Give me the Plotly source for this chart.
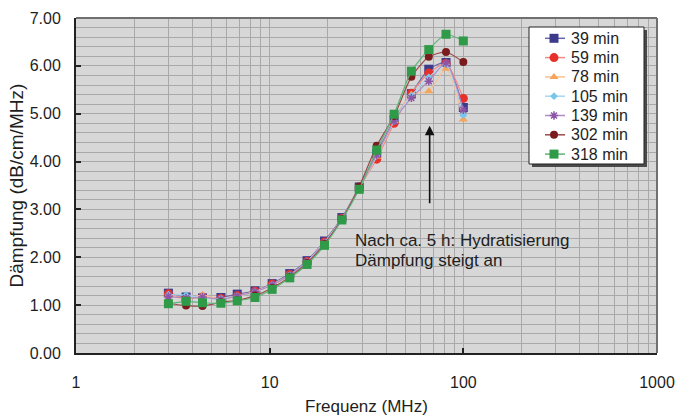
import numpy as np
import plotly.graph_objects as go

freq = [3.0, 3.7, 4.5, 5.6, 6.8, 8.4, 10.3, 12.7, 15.6, 19.2, 23.6, 29.0, 35.7, 43.9, 53.9, 66.3, 81.4, 100]

d39 = [1.25, 1.17, 1.15, 1.16, 1.23, 1.30, 1.45, 1.66, 1.93, 2.34, 2.83, 3.47, 4.17, 4.88, 5.42, 5.93, 6.07, 5.13]
d59 = [1.24, 1.14, 1.17, 1.14, 1.20, 1.29, 1.44, 1.64, 1.91, 2.32, 2.81, 3.45, 4.05, 4.80, 5.43, 5.85, 6.05, 5.32]
d78 = [1.20, 1.13, 1.21, 1.12, 1.18, 1.27, 1.42, 1.62, 1.90, 2.30, 2.80, 3.45, 4.10, 4.85, 5.40, 5.47, 5.94, 4.88]
d105 = [1.22, 1.21, 1.15, 1.14, 1.19, 1.28, 1.43, 1.63, 1.91, 2.31, 2.81, 3.45, 4.12, 4.85, 5.38, 5.76, 6.03, 4.97]
d139 = [1.18, 1.15, 1.17, 1.12, 1.19, 1.28, 1.42, 1.63, 1.90, 2.30, 2.80, 3.44, 4.14, 4.85, 5.33, 5.68, 6.06, 5.08]
d302 = [1.04, 0.99, 0.98, 1.06, 1.10, 1.20, 1.36, 1.59, 1.88, 2.28, 2.80, 3.48, 4.33, 4.95, 5.77, 6.19, 6.29, 6.08]
d318 = [1.03, 1.08, 1.05, 1.04, 1.09, 1.16, 1.33, 1.57, 1.85, 2.25, 2.78, 3.42, 4.24, 4.99, 5.89, 6.34, 6.66, 6.52]

series_names = ["39 min", "59 min", "78 min", "105 min", "139 min", "302 min", "318 min"]
series_data = [d39, d59, d78, d105, d139, d302, d318]
colors = ["#3d3a8c", "#e8302a", "#f5a55a", "#78c6ea", "#8d55a6", "#7a1c1e", "#2f9a48"]
line_colors = ["#6a67b0", "#ee8a86", "#f7c196", "#a6d9f2", "#b08bc4", "#9a4a4a", "#5db477"]
symbols = ["square", "circle", "triangle-up", "diamond", "asterisk-open", "circle", "square"]
sizes = [9, 9, 8, 6, 7, 8, 9]

x_ticks = [1, 10, 100, 1000]
y_ticks = [0, 1, 2, 3, 4, 5, 6, 7]

arrow_freq = 67.0
arrow_from = 3.1
arrow_to = 4.75
note_lines = ["Nach ca. 5 h: Hydratisierung", "Dämpfung steigt an"]

FONT = "Arial, Liberation Sans, sans-serif"
TXT = "#1e1e1e"

W, H = 675, 415
PL, PR, PT, PB = 76, 657, 18, 353  # plot area in page pixels

fig = go.Figure()
for name, data, c, lc, s, sz in zip(series_names, series_data, colors, line_colors, symbols, sizes):
    marker = dict(symbol=s, size=sz, color=c, line=dict(width=0))
    if s == "asterisk-open":
        marker["line"] = dict(width=1.5, color=c)
    fig.add_trace(go.Scatter(
        x=freq, y=data, name=name, mode="lines+markers", showlegend=False,
        line=dict(color=lc, width=1.2, shape="spline", smoothing=0.6),
        marker=marker,
    ))

# ---- manual legend on an overlay axis measured in page pixels ----
L_LEFT, L_RIGHT, L_TOP, L_BOTTOM = 529, 644, 27, 164
row0, row_step = 38.3, 19.3
fig.add_trace(go.Scatter(
    x=[L_LEFT + 3, L_RIGHT + 3, L_RIGHT + 3, L_LEFT + 3, L_LEFT + 3],
    y=[L_TOP + 3, L_TOP + 3, L_BOTTOM + 3, L_BOTTOM + 3, L_TOP + 3],
    mode="lines", fill="toself", fillcolor="#4a4a4a", line=dict(width=0),
    xaxis="x2", yaxis="y2", showlegend=False, hoverinfo="skip"))
fig.add_trace(go.Scatter(
    x=[L_LEFT, L_RIGHT, L_RIGHT, L_LEFT, L_LEFT],
    y=[L_TOP, L_TOP, L_BOTTOM, L_BOTTOM, L_TOP],
    mode="lines", fill="toself", fillcolor="white", line=dict(width=1, color="#222"),
    xaxis="x2", yaxis="y2", showlegend=False, hoverinfo="skip"))
for i, (name, c, lc, s, sz) in enumerate(zip(series_names, colors, line_colors, symbols, sizes)):
    yc = row0 + i * row_step
    fig.add_trace(go.Scatter(x=[545, 565], y=[yc, yc], mode="lines", xaxis="x2", yaxis="y2",
                             line=dict(color=lc, width=1.5), showlegend=False, hoverinfo="skip"))
    mk = dict(symbol=s, size=sz, color=c, line=dict(width=0))
    if s == "asterisk-open":
        mk["line"] = dict(width=1.5, color=c)
    fig.add_trace(go.Scatter(x=[554], y=[yc], mode="markers", xaxis="x2", yaxis="y2",
                             marker=mk, showlegend=False, hoverinfo="skip"))
    fig.add_annotation(x=569, y=yc, xref="x2", yref="y2", text=name, showarrow=False,
                       xanchor="left", yanchor="middle", font=dict(size=16, color=TXT, family=FONT))

grid_c = "#a9a9a9"
fig.update_layout(
    width=W, height=H,
    margin=dict(l=PL, r=W - PR, t=PT, b=H - PB, pad=0),
    paper_bgcolor="white",
    plot_bgcolor="#d7d7d7",
    font=dict(family=FONT, size=16, color=TXT),
    showlegend=False,
    xaxis=dict(
        type="log", range=[0, 3], automargin=False,
        tickvals=x_ticks, ticktext=[str(v) for v in x_ticks],
        showgrid=True, gridcolor=grid_c, gridwidth=1,
        minor=dict(showgrid=True, gridcolor=grid_c, gridwidth=1, dtick="D1", ticks=""),
        ticks="inside", ticklen=5, tickcolor="#222", tickwidth=1.5,
        showline=True, linecolor="#222", linewidth=2,
        ticklabelstandoff=14,
        zeroline=False,
        tickfont=dict(size=16),
    ),
    yaxis=dict(
        range=[0, 7], tickvals=y_ticks, tickformat=".2f", automargin=False,
        showgrid=True, gridcolor=grid_c, gridwidth=1,
        minor=dict(showgrid=True, gridcolor=grid_c, gridwidth=1, dtick=0.2, ticks=""),
        ticks="inside", ticklen=5, tickcolor="#222", tickwidth=1.5,
        showline=True, linecolor="#222", linewidth=2,
        ticklabelstandoff=10,
        zeroline=False,
        tickfont=dict(size=16),
    ),
    xaxis2=dict(overlaying="x", anchor="y2", range=[PL, PR], visible=False, fixedrange=True),
    yaxis2=dict(overlaying="y", anchor="x2", range=[PB, PT], visible=False, fixedrange=True),
)

# axis titles
fig.add_annotation(x=0.5, y=0, xref="paper", yref="paper", yshift=-53, text="Frequenz (MHz)",
                   showarrow=False, xanchor="center", yanchor="middle", font=dict(size=17, color=TXT))
fig.add_annotation(x=0, y=0.5, xref="paper", yref="paper", xshift=-60, text="Dämpfung (dB/cm/MHz)",
                   textangle=-90, showarrow=False, xanchor="center", yanchor="middle",
                   font=dict(size=19, color=TXT))

# frame (top/right) of the plot area
fig.add_shape(type="line", xref="paper", yref="paper", x0=0, y0=1, x1=1, y1=1,
              line=dict(color="#707070", width=2), layer="above")
fig.add_shape(type="line", xref="paper", yref="paper", x0=1, y0=0, x1=1, y1=1,
              line=dict(color="#707070", width=2), layer="above")

fig.add_annotation(
    x=np.log10(arrow_freq), y=arrow_to, ax=np.log10(arrow_freq), ay=arrow_from,
    xref="x", yref="y", axref="x", ayref="y",
    showarrow=True, arrowhead=2, arrowsize=1.2, arrowwidth=1.6, arrowcolor="#111", text="",
)
for k, line in enumerate(note_lines):
    fig.add_annotation(
        x=353, y=240.7 + k * 19.3, xref="x2", yref="y2",
        text=line, showarrow=False, xanchor="left", yanchor="middle", align="left",
        font=dict(size=17, color=TXT),
    )

fig.write_html(
    "out.html",
    config={"displayModeBar": False},
    post_script="document.body.style.margin='0px';"
                "document.documentElement.style.overflow='hidden';"
                "document.body.style.overflow='hidden';",
)
